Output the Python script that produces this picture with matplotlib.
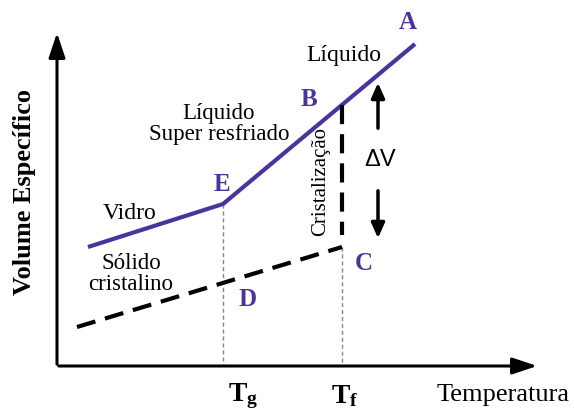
import matplotlib.pyplot as plt

plt.rcParams['font.family'] = ['Liberation Serif', 'DejaVu Serif']
plt.rcParams['mathtext.fontset'] = 'custom'
plt.rcParams['mathtext.rm'] = 'Liberation Serif'
plt.rcParams['mathtext.bf'] = 'Liberation Serif:bold'

# schematic coordinates (temperature -> x, specific volume -> y, drawn top-down)
liquid_T = [88, 223, 415]        # glass start, E, A
liquid_V = [247, 204, 44]
crystal_T = [77, 342]            # dashed solid line up to C
crystal_V = [327, 247]
Tg, Tf = 223, 342
V_E, V_D, V_B, V_C = 204, 283, 103, 247

purple = "#4b339e"

fig = plt.figure(figsize=(5.74, 4.12), dpi=100)
ax = fig.add_axes([0, 0, 1, 1])
ax.set_xlim(0, 574)
ax.set_ylim(412, 0)
ax.axis("off")

# axes with arrows
ax.annotate("", xy=(57, 30), xytext=(57, 367),
            arrowprops=dict(arrowstyle="-|>,head_length=1.5,head_width=0.5", color="black", lw=2.2))
ax.annotate("", xy=(540, 366), xytext=(56, 366),
            arrowprops=dict(arrowstyle="-|>,head_length=1.5,head_width=0.5", color="black", lw=2.2))

# guide lines
ax.plot([Tg, Tg], [V_E, 366], color="#888888", lw=1, ls=(0, (3, 2)))
ax.plot([Tf, Tf], [V_C, 366], color="#888888", lw=1, ls=(0, (3, 2)))

# curves
ax.plot(liquid_T, liquid_V, color=purple, lw=3, solid_capstyle="butt")
ax.plot(crystal_T, crystal_V, color="black", lw=3, ls=(0, (4.6, 2.4)))
ax.plot([Tf, Tf], [V_B + 2, V_C - 12], color="black", lw=3, ls=(0, (4.6, 2.4)))

# delta V arrows
ax.annotate("", xy=(378, 80), xytext=(378, 131),
            arrowprops=dict(arrowstyle="-|>,head_length=0.9,head_width=0.4", color="black", lw=2.5))
ax.annotate("", xy=(378, 241), xytext=(378, 188),
            arrowprops=dict(arrowstyle="-|>,head_length=0.9,head_width=0.4", color="black", lw=2.5))
ax.text(380, 160, "ΔV", fontsize=17, ha="center", va="center", family=["Liberation Sans"])

# point letters
for lbl, x, y in [("A", 408, 22), ("B", 309, 99), ("E", 222, 184), ("D", 248, 300), ("C", 364, 263)]:
    ax.text(x, y, lbl, color=purple, fontsize=18, fontweight="bold", ha="center", va="center")

# region labels
ax.text(344, 55, "Líquido", fontsize=17, ha="center", va="center")
ax.text(219, 124, "Líquido\nSuper resfriado", fontsize=16.5, ha="center", va="center", linespacing=1.05)
ax.text(130, 213, "Vidro", fontsize=17, ha="center", va="center")
ax.text(131, 274, "Sólido\ncristalino", fontsize=16.5, ha="center", va="center", linespacing=1.05)
ax.text(321, 181, "Cristalização", fontsize=15, ha="center", va="center", rotation=90)

# axis labels
ax.text(25, 192, "Volume Específico", fontsize=19, fontweight="bold", ha="center", va="center", rotation=90)
ax.text(503, 395, "Temperatura", fontsize=19, ha="center", va="center")
ax.text(243, 396, r"$\mathbf{T_g}$", fontsize=20, ha="center", va="center")
ax.text(345, 396, r"$\mathbf{T_f}$", fontsize=20, ha="center", va="center")

fig.savefig("out.png", dpi=100)
